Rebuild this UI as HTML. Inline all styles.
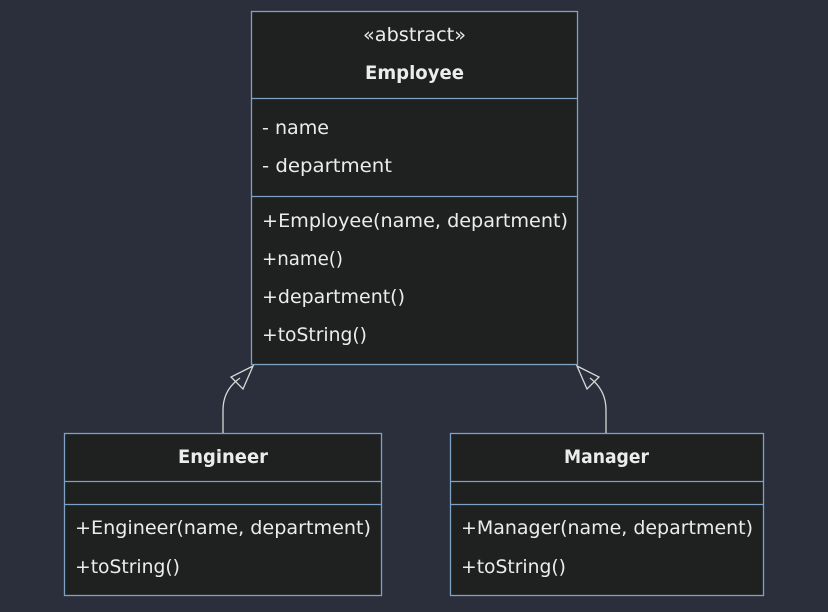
<!DOCTYPE html>
<html><head><style>
body{margin:0;background:#2a2f3b;}
svg text{font-family:"DejaVu Sans","Liberation Sans",sans-serif;fill:#ececec;font-size:19px;}
.b{font-weight:bold;}
</style></head><body>
<svg width="828" height="607" xmlns="http://www.w3.org/2000/svg">
<rect width="828" height="607" fill="#2a2f3b"/>
<g fill="#1f2020" stroke="#7ea2c6" stroke-width="1.3">
<rect x="251.5" y="11.5" width="326" height="353"/>
<line x1="251.5" y1="98.5" x2="577.5" y2="98.5"/>
<line x1="251.5" y1="196.5" x2="577.5" y2="196.5"/>
<rect x="64.5" y="433.5" width="317" height="162"/>
<line x1="64.5" y1="481.5" x2="381.5" y2="481.5"/>
<line x1="64.5" y1="504.5" x2="381.5" y2="504.5"/>
<rect x="450.5" y="433.5" width="313" height="162"/>
<line x1="450.5" y1="481.5" x2="763.5" y2="481.5"/>
<line x1="450.5" y1="504.5" x2="763.5" y2="504.5"/>
</g>
<g fill="none" stroke="#d8d8d8" stroke-width="1.3">
<path d="M223 433 L223 410 Q223 390 240 378"/>
<path d="M253 366 L231 377 L243 389 Z"/>
<path d="M606 433 L606 410 Q606 390 590 378"/>
<path d="M577 366 L599 377 L587 389 Z"/>
</g>
<text x="363" y="41" textLength="103" lengthAdjust="spacingAndGlyphs">«abstract»</text>
<text x="365" y="79" class="b" textLength="99" lengthAdjust="spacingAndGlyphs">Employee</text>
<text x="262" y="134" textLength="67" lengthAdjust="spacingAndGlyphs">- name</text>
<text x="262" y="172" textLength="130" lengthAdjust="spacingAndGlyphs">- department</text>
<text x="262" y="227" textLength="306" lengthAdjust="spacingAndGlyphs">+Employee(name, department)</text>
<text x="262" y="265" textLength="81" lengthAdjust="spacingAndGlyphs">+name()</text>
<text x="262" y="303" textLength="143" lengthAdjust="spacingAndGlyphs">+department()</text>
<text x="262" y="341" textLength="105" lengthAdjust="spacingAndGlyphs">+toString()</text>
<text x="178" y="463" class="b" textLength="90" lengthAdjust="spacingAndGlyphs">Engineer</text>
<text x="75" y="534" textLength="296" lengthAdjust="spacingAndGlyphs">+Engineer(name, department)</text>
<text x="75" y="573" textLength="105" lengthAdjust="spacingAndGlyphs">+toString()</text>
<text x="564" y="463" class="b" textLength="85" lengthAdjust="spacingAndGlyphs">Manager</text>
<text x="461" y="534" textLength="292" lengthAdjust="spacingAndGlyphs">+Manager(name, department)</text>
<text x="461" y="573" textLength="105" lengthAdjust="spacingAndGlyphs">+toString()</text>
</svg>
</body></html>
